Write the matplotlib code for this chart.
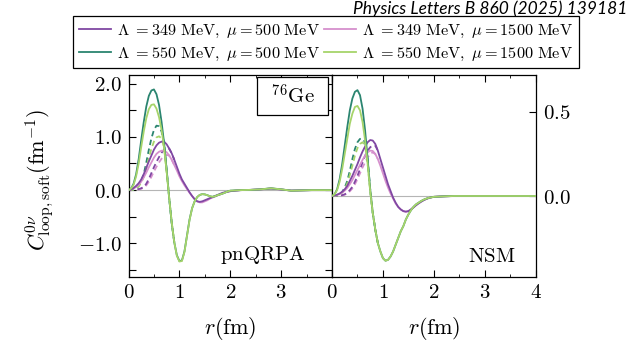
import numpy as np
import matplotlib
matplotlib.use("Agg")
import matplotlib.pyplot as plt
from matplotlib.patches import Rectangle
from matplotlib.lines import Line2D

plt.rcParams["mathtext.fontset"] = "cm"
plt.rcParams["font.family"] = ["DejaVu Serif"]

# radial grid (fm): fine up to 2 fm, coarser beyond
r = np.concatenate([np.arange(0, 2.001, 0.05), np.arange(2.2, 4.001, 0.2)])
r_dash = r[:19]

# pnQRPA, solid lines (fm^-1)
qrpa_349_500 = [0, 0.01, 0.04, 0.08, 0.13, 0.20, 0.30, 0.42, 0.54, 0.65, 0.76, 0.84, 0.89, 0.91, 0.91,
                0.86, 0.78, 0.69, 0.57, 0.44, 0.31, 0.20, 0.12, 0.04, -0.04, -0.11, -0.17, -0.21, -0.22,
                -0.21, -0.19, -0.17, -0.15, -0.13, -0.11, -0.09, -0.07, -0.05, -0.04, -0.03, -0.02,
                0.0, 0.005, 0.015, 0.03, 0.012, -0.008, -0.004, 0, 0, 0]
qrpa_349_1500 = [0, 0.01, 0.03, 0.06, 0.10, 0.16, 0.24, 0.33, 0.43, 0.52, 0.61, 0.68, 0.72, 0.74, 0.74,
                 0.71, 0.65, 0.57, 0.47, 0.37, 0.26, 0.17, 0.09, 0.02, -0.05, -0.11, -0.17, -0.21, -0.23,
                 -0.23, -0.21, -0.19, -0.16, -0.14, -0.12, -0.10, -0.08, -0.06, -0.04, -0.03, -0.02,
                 0.0, 0.005, 0.015, 0.03, 0.012, -0.008, -0.004, 0, 0, 0]
qrpa_550_500 = [0, 0.03, 0.12, 0.30, 0.58, 0.94, 1.28, 1.57, 1.77, 1.87, 1.89, 1.80, 1.60, 1.28, 0.88,
                0.38, -0.15, -0.62, -0.98, -1.22, -1.33, -1.32, -1.15, -0.85, -0.55, -0.34, -0.21, -0.13,
                -0.09, -0.075, -0.08, -0.095, -0.115, -0.125, -0.115, -0.095, -0.08, -0.065, -0.045,
                -0.025, -0.01, 0.0, 0.005, 0.015, 0.035, 0.015, -0.01, -0.005, 0, 0, 0]
qrpa_550_1500 = [0, 0.03, 0.10, 0.26, 0.50, 0.81, 1.10, 1.35, 1.52, 1.60, 1.61, 1.53, 1.37, 1.13, 0.80,
                 0.34, -0.15, -0.61, -0.98, -1.23, -1.34, -1.33, -1.16, -0.86, -0.56, -0.34, -0.21, -0.13,
                 -0.09, -0.075, -0.08, -0.095, -0.115, -0.125, -0.115, -0.095, -0.08, -0.065, -0.045,
                 -0.025, -0.01, 0.0, 0.005, 0.015, 0.035, 0.015, -0.01, -0.005, 0, 0, 0]

# pnQRPA, dashed lines (0 - 0.9 fm)
qrpa_349_500_d = [0, 0, 0.01, 0.015, 0.02, 0.035, 0.06, 0.12, 0.21, 0.32, 0.43, 0.53, 0.62, 0.70, 0.76,
                  0.79, 0.78, 0.69, 0.57]
qrpa_349_1500_d = [0, 0, 0.005, 0.01, 0.015, 0.025, 0.05, 0.09, 0.16, 0.25, 0.35, 0.44, 0.52, 0.59, 0.64,
                   0.66, 0.65, 0.57, 0.47]
qrpa_550_500_d = [0, 0, 0.01, 0.03, 0.08, 0.17, 0.30, 0.52, 0.76, 0.97, 1.13, 1.21, 1.20, 1.10, 0.88,
                  0.38, -0.15, -0.62, -0.98]
qrpa_550_1500_d = [0, 0, 0.01, 0.03, 0.07, 0.14, 0.25, 0.41, 0.60, 0.78, 0.91, 0.99, 1.01, 0.97, 0.80,
                   0.34, -0.15, -0.61, -0.98]

# NSM, solid lines
nsm_349_500 = [0, 0.003, 0.008, 0.015, 0.025, 0.04, 0.06, 0.09, 0.12, 0.155, 0.19, 0.23, 0.265, 0.295,
               0.32, 0.333, 0.33, 0.31, 0.27, 0.22, 0.17, 0.12, 0.07, 0.03, -0.01, -0.04, -0.065, -0.08,
               -0.09, -0.093, -0.09, -0.08, -0.068, -0.055, -0.044, -0.034, -0.025, -0.018, -0.012,
               -0.008, -0.005, -0.002, 0, 0, 0, 0, 0, 0, 0, 0, 0]
nsm_349_1500 = [0, 0.002, 0.006, 0.012, 0.02, 0.032, 0.048, 0.07, 0.095, 0.125, 0.155, 0.185, 0.215, 0.24,
                0.26, 0.27, 0.268, 0.25, 0.22, 0.18, 0.135, 0.09, 0.05, 0.015, -0.015, -0.045, -0.065,
                -0.08, -0.09, -0.094, -0.09, -0.08, -0.068, -0.055, -0.044, -0.034, -0.025, -0.018,
                -0.012, -0.008, -0.005, -0.002, 0, 0, 0, 0, 0, 0, 0, 0, 0]
nsm_550_500 = [0, 0.01, 0.04, 0.10, 0.19, 0.30, 0.41, 0.51, 0.58, 0.62, 0.63, 0.60, 0.52, 0.39, 0.22,
               0.04, -0.10, -0.20, -0.28, -0.33, -0.37, -0.385, -0.38, -0.36, -0.33, -0.29, -0.25,
               -0.21, -0.18, -0.14, -0.11, -0.085, -0.065, -0.05, -0.04, -0.03, -0.022, -0.016, -0.011,
               -0.008, -0.005, -0.002, 0, 0, 0, 0, 0, 0, 0, 0, 0]
nsm_550_1500 = [0, 0.01, 0.035, 0.085, 0.16, 0.25, 0.34, 0.43, 0.49, 0.53, 0.536, 0.51, 0.44, 0.33, 0.19,
                0.03, -0.10, -0.20, -0.28, -0.33, -0.37, -0.385, -0.38, -0.36, -0.33, -0.29, -0.25,
                -0.21, -0.18, -0.14, -0.11, -0.085, -0.065, -0.05, -0.04, -0.03, -0.022, -0.016, -0.011,
                -0.008, -0.005, -0.002, 0, 0, 0, 0, 0, 0, 0, 0, 0]

# NSM, dashed lines (0 - 0.9 fm)
nsm_349_500_d = [0, 0, 0, 0.002, 0.005, 0.01, 0.02, 0.035, 0.055, 0.085, 0.12, 0.16, 0.20, 0.24, 0.27,
                 0.29, 0.30, 0.30, 0.27]
nsm_349_1500_d = [0, 0, 0, 0.002, 0.004, 0.008, 0.015, 0.028, 0.045, 0.07, 0.10, 0.135, 0.17, 0.20, 0.23,
                  0.25, 0.26, 0.25, 0.22]
nsm_550_500_d = [0, 0, 0.003, 0.01, 0.025, 0.05, 0.09, 0.15, 0.22, 0.28, 0.32, 0.34, 0.34, 0.32, 0.22,
                 0.04, -0.10, -0.20, -0.28]
nsm_550_1500_d = [0, 0, 0.003, 0.009, 0.02, 0.04, 0.075, 0.125, 0.18, 0.24, 0.285, 0.31, 0.32, 0.30, 0.19,
                  0.03, -0.10, -0.20, -0.28]

labels = [r"$\Lambda\ {=}349\ \mathrm{MeV},\ \mu = 500\ \mathrm{MeV}$",
          r"$\Lambda\ {=}550\ \mathrm{MeV},\ \mu = 500\ \mathrm{MeV}$",
          r"$\Lambda\ {=}349\ \mathrm{MeV},\ \mu = 1500\ \mathrm{MeV}$",
          r"$\Lambda\ {=}550\ \mathrm{MeV},\ \mu = 1500\ \mathrm{MeV}$"]
colors = ["#8048a3", "#2b8570", "#d690cd", "#a6d46a"]

fig = plt.figure(figsize=(6.43, 3.48), dpi=100)
W, H = 643.0, 348.0
bottom = 1 - 277 / H
height = (277 - 74.5) / H
ax1 = fig.add_axes([128.5 / W, bottom, (332 - 128.5) / W, height])
ax2 = fig.add_axes([332 / W, bottom, (535.7 - 332) / W, height])

panels = [
    (ax1, [qrpa_349_500, qrpa_550_500, qrpa_349_1500, qrpa_550_1500],
     [qrpa_349_500_d, qrpa_550_500_d, qrpa_349_1500_d, qrpa_550_1500_d]),
    (ax2, [nsm_349_500, nsm_550_500, nsm_349_1500, nsm_550_1500],
     [nsm_349_500_d, nsm_550_500_d, nsm_349_1500_d, nsm_550_1500_d]),
]
draw_order = [2, 0, 1, 3]
for ax, solid, dashed in panels:
    ax.axhline(0, color="#b5b5b5", lw=0.8, zorder=1)
    for i in draw_order:
        ax.plot(r_dash, dashed[i], color=colors[i], lw=1.3, ls=(0, (3, 2)), zorder=2)
    for i in draw_order:
        ax.plot(r, solid[i], color=colors[i], lw=1.3, zorder=3)
    ax.set_xlim(0, 4)
    ax.set_xticks([0, 1, 2, 3, 4])
    ax.set_xticks(np.arange(0.5, 4, 1.0), minor=True)
    ax.tick_params(axis="x", which="both", direction="in", top=True, labelsize=15, pad=4)
    ax.tick_params(axis="x", which="major", length=5)
    ax.tick_params(axis="x", which="minor", length=2.5)
    for s in ax.spines.values():
        s.set_linewidth(0.9)

ax1.set_ylim(-1.63, 2.17)
ax1.set_yticks([-1.5, -1.0, -0.5, 0.0, 0.5, 1.0, 1.5, 2.0])
ax1.set_yticklabels(["", "$-1.0$", "", "$0.0$", "", "$1.0$", "", "$2.0$"])
ax1.set_xticklabels(["$0$", "$1$", "$2$", "$3$", ""])
ax1.tick_params(axis="y", direction="in", left=True, right=True, length=5, labelsize=15, pad=5)

ax2.set_ylim(-0.482, 0.723)
ax2.set_yticks([0.0, 0.5])
ax2.set_yticklabels(["$0.0$", "$0.5$"])
ax2.set_xticklabels(["$0$", "$1$", "$2$", "$3$", "$4$"])
ax2.yaxis.tick_right()
ax2.tick_params(axis="y", direction="in", left=False, right=True, length=5, labelsize=15, pad=5)

ax1.text(0.87, 0.085, r"$\mathrm{pnQRPA}$", transform=ax1.transAxes, ha="right", va="baseline", fontsize=15)
ax2.text(0.9, 0.075, r"$\mathrm{NSM}$", transform=ax2.transAxes, ha="right", va="baseline", fontsize=15)

ax1.add_patch(Rectangle((0.633, 0.80), 0.349, 0.189, transform=ax1.transAxes,
                        fill=True, fc="white", ec="black", lw=0.9, zorder=5))
ax1.text(0.8075, 0.893, r"$^{76}\mathrm{Ge}$", transform=ax1.transAxes, ha="center", va="center",
         fontsize=15, zorder=6)

for ax in (ax1, ax2):
    ax.set_xlabel(r"$r(\mathrm{fm})$", fontsize=16, labelpad=10)
fig.text(40 / W, 1 - 180 / H, r"$C^{0\nu}_{\mathrm{loop,soft}}(\mathrm{fm}^{-1})$", rotation=90,
         ha="center", va="center", fontsize=16)

handles = [Line2D([], [], color=c, lw=1.3) for c in colors]
leg = fig.legend(handles, labels, ncol=2, loc="upper left", bbox_to_anchor=(73 / W, 1 - 16 / H),
                 fontsize=11.7, frameon=True, fancybox=False, edgecolor="black", framealpha=1,
                 handlelength=2.0, handletextpad=0.35, columnspacing=0.25, borderpad=0.35,
                 labelspacing=0.3, borderaxespad=0)
leg.get_frame().set_linewidth(0.9)

fig.text(627 / W, 1 - 9 / H, "Physics Letters B 860 (2025) 139181", ha="right", va="center",
         fontsize=12.5, style="italic", family=["Lato", "DejaVu Sans"])

fig.savefig("out.png", dpi=100)
